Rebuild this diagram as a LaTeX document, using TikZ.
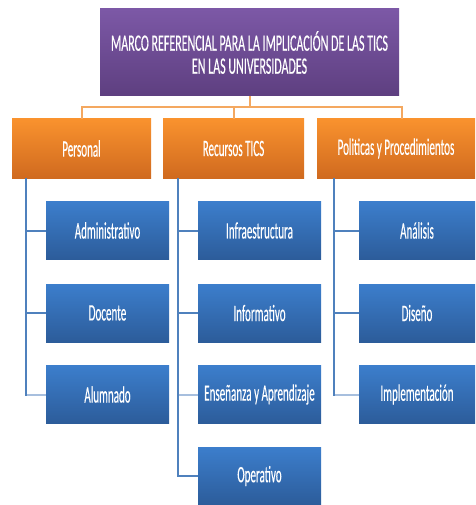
\documentclass[tikz,border=0pt]{standalone}
\usepackage{fontspec}
\setmainfont{Carlito}[FakeStretch=0.47,FakeBold=0.3]
\newfontfamily\titlefont{Carlito}[FakeStretch=0.51,FakeBold=0.3]
\usetikzlibrary{calc}
\definecolor{purpTop}{RGB}{124,88,166}
\definecolor{purpBot}{RGB}{94,63,128}
\definecolor{orTop}{RGB}{249,146,46}
\definecolor{orBot}{RGB}{208,106,31}
\definecolor{blTop}{RGB}{60,126,204}
\definecolor{blBot}{RGB}{44,92,154}
\definecolor{orLine}{RGB}{244,168,96}
\definecolor{blLine}{RGB}{79,129,189}
\definecolor{blLight}{RGB}{167,191,222}
\tikzset{
  box/.style={inner sep=0pt, align=center, text=white, font=\fontsize{23.5}{23}\selectfont},
  titlebox/.style={box, top color=purpTop, bottom color=purpBot, minimum width=299pt, minimum height=87pt, font=\titlefont\fontsize{23.5}{23}\selectfont},
  catbox/.style={box, top color=orTop, bottom color=orBot, minimum height=59pt},
  itembox/.style={box, top color=blTop, bottom color=blBot, minimum height=58pt},
  oconn/.style={draw=orLine, line width=2pt},
  bconn/.style={draw=blLine, line width=2pt},
  lconn/.style={draw=blLight, line width=2pt},
}
\begin{document}
\begin{tikzpicture}[x=1pt,y=-1pt]
\useasboundingbox (0,0) rectangle (475,505);
% title
\node[titlebox] (title) at (249.5,52.5) {MARCO REFERENCIAL PARA LA IMPLICACIÓN DE LAS TICS\\EN LAS UNIVERSIDADES};
% categories
\node[catbox, minimum width=139pt] (pers) at (81.5,148.5) {Personal};
\node[catbox, minimum width=141pt] (recu) at (233.5,148.5) {Recursos TICS};
\node[catbox, minimum width=158pt] (poli) at (396,148.5) {Politicas y Procedimientos};
% orange connectors
\coordinate (bus) at ($(title.south)+(0,11)$);
\coordinate (polin) at ($(poli.north)+(6,0)$);
\draw[oconn] (title.south) -- (bus) -| (pers.north);
\draw[oconn] (bus) -| (recu.north);
\draw[oconn] (bus) -| (polin);
% items
\node[itembox, minimum width=123pt] (adm) at (107.5,230.5) {Administrativo};
\node[itembox, minimum width=123pt] (doc) at (107.5,313) {Docente};
\node[itembox, minimum width=123pt] (alu) at (107.5,394.5) {Alumnado};
\node[itembox, minimum width=123pt] (inf) at (259.5,230.5) {Infraestructura};
\node[itembox, minimum width=123pt] (info) at (259.5,313) {Informativo};
\node[itembox, minimum width=123pt] (ens) at (259.5,394.5) {Enseñanza y Aprendizaje};
\node[itembox, minimum width=123pt] (ope) at (259.5,476) {Operativo};
\node[itembox, minimum width=116pt] (ana) at (417,230.5) {Análisis};
\node[itembox, minimum width=116pt] (dis) at (417,313) {Diseño};
\node[itembox, minimum width=116pt] (imp) at (417,394.5) {Implementación};
% blue connectors
\coordinate (pl) at ($(pers.south west)+(14,0)$);
\coordinate (rl) at ($(recu.south west)+(15,0)$);
\coordinate (ql) at ($(poli.south west)+(17,0)$);
\draw[bconn] (pl) |- (alu.west);
\draw[bconn] (pl |- adm.west) -- (adm.west);
\draw[bconn] (pl |- doc.west) -- (doc.west);
\draw[lconn] ($(pl |- alu.west)+(1,0)$) -- (alu.west);
\draw[bconn] (rl) |- (ope.west);
\draw[bconn] (rl |- inf.west) -- (inf.west);
\draw[bconn] (rl |- info.west) -- (info.west);
\draw[lconn] ($(rl |- ens.west)+(1,0)$) -- (ens.west);
\draw[bconn] (ql) |- (imp.west);
\draw[bconn] (ql |- ana.west) -- (ana.west);
\draw[bconn] (ql |- dis.west) -- (dis.west);
\draw[lconn] ($(ql |- imp.west)+(1,0)$) -- (imp.west);
\end{tikzpicture}
\end{document}
